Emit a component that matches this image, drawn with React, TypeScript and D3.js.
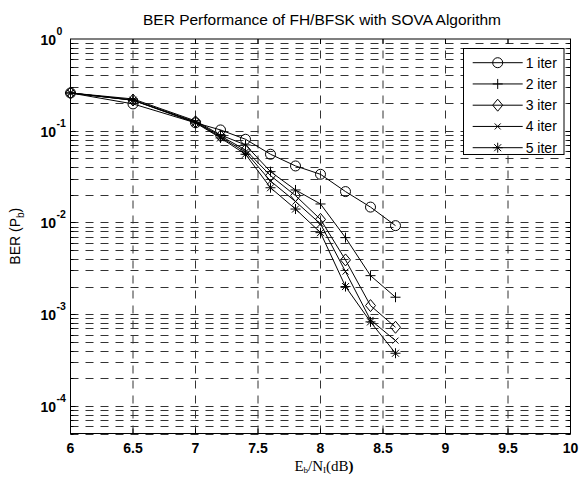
import React from "react";
import * as d3 from "d3";

const ebno = [6, 6.5, 7, 7.2, 7.4, 7.6, 7.8, 8.0, 8.2, 8.4, 8.6];
const iter1 = [0.258, 0.196, 0.122, 0.102, 0.0807, 0.0554, 0.0413, 0.0335, 0.0217, 0.0147, 0.00923];
const iter2 = [0.258, 0.222, 0.128, 0.0899, 0.07, 0.0358, 0.0226, 0.0159, 0.00683, 0.00263, 0.00153];
const iter3 = [0.258, 0.216, 0.125, 0.0877, 0.0617, 0.0324, 0.0196, 0.0108, 0.0039, 0.00124, 0.00072];
const iter4 = [0.258, 0.215, 0.124, 0.085, 0.0587, 0.0283, 0.0169, 0.00964, 0.00291, 0.000865, 0.000515];
const iter5 = [0.258, 0.215, 0.122, 0.0834, 0.0554, 0.0239, 0.014, 0.00774, 0.002, 0.000824, 0.000375];
const seriesNames = ["1 iter", "2 iter", "3 iter", "4 iter", "5 iter"];
const markerTypes = ["circle", "plus", "diamond", "x", "star"];
const xTicks = [6, 6.5, 7, 7.5, 8, 8.5, 9, 9.5, 10];
const yMajorExp = [0, -1, -2, -3, -4];
const titleText = "BER Performance of FH/BFSK with SOVA Algorithm";

const W = 581;
const H = 477;
const L = 70.5, R = 570.5, T = 39, B = 433.5;

function Marker({ type, x, y }: { type: string; x: number; y: number }) {
  const s = { stroke: "#000", strokeWidth: 1, fill: "none" } as any;
  if (type === "circle") return <circle cx={x} cy={y} r={5} {...s} />;
  if (type === "plus")
    return <path d={`M${x - 5},${y}H${x + 5}M${x},${y - 5}V${y + 5}`} {...s} />;
  if (type === "diamond")
    return <path d={`M${x},${y - 6}L${x + 5},${y}L${x},${y + 6}L${x - 5},${y}Z`} {...s} />;
  if (type === "x")
    return <path d={`M${x - 3},${y - 3}L${x + 3},${y + 3}M${x - 3},${y + 3}L${x + 3},${y - 3}`} {...s} />;
  return (
    <path
      d={`M${x - 5},${y}H${x + 5}M${x},${y - 5}V${y + 5}M${x - 3.5},${y - 3.5}L${x + 3.5},${y + 3.5}M${x - 3.5},${y + 3.5}L${x + 3.5},${y - 3.5}`}
      {...s}
    />
  );
}

export default function App() {
  const x = d3.scaleLinear().domain([6, 10]).range([L, R]);
  const y = d3.scaleLog().domain([5e-5, 1]).range([B, T]);
  const data = [iter1, iter2, iter3, iter4, iter5];
  const line = d3
    .line<number>()
    .x((_, i) => x(ebno[i]))
    .y((d) => y(d));

  const minorVals: number[] = [];
  for (let e = -5; e <= 0; e++) {
    for (let k = 1; k <= 9; k++) {
      const v = k * Math.pow(10, e);
      if (v >= 5e-5 && v < 1) minorVals.push(v);
    }
  }

  const gridStyle = { stroke: "#333", strokeWidth: 1, strokeDasharray: "8,7", fill: "none" } as any;

  const legX = 463.5, legY = 48.5, legW = 100.5, legH = 106;
  const legRow0 = 62.7, legStep = 21.25;

  return (
    <svg
      width={W}
      height={H}
      style={{ position: "absolute", left: 0, top: 0, background: "#fff" }}
      fontFamily="Arial, 'Liberation Sans', Helvetica, sans-serif"
    >
      <rect x={0} y={0} width={W} height={H} fill="#fff" />
      {xTicks.slice(1, -1).map((t) => (
        <line key={"gx" + t} x1={x(t)} x2={x(t)} y1={B} y2={T} {...gridStyle} />
      ))}
      {minorVals.map((v, i) => (
        <line key={"gy" + i} x1={L} x2={R} y1={Math.round(y(v)) + 0.5} y2={Math.round(y(v)) + 0.5} {...gridStyle} />
      ))}
      {xTicks.map((t) => (
        <g key={"tx" + t}>
          <line x1={x(t)} x2={x(t)} y1={B} y2={B - 5} stroke="#000" />
          <line x1={x(t)} x2={x(t)} y1={T} y2={T + 5} stroke="#000" />
          <text x={x(t)} y={B + 19} textAnchor="middle" fontSize={14} fontWeight="bold">
            {String(t)}
          </text>
        </g>
      ))}
      {minorVals.map((v, i) => {
        const isMajor = Math.abs(Math.log10(v) - Math.round(Math.log10(v))) < 1e-9;
        const len = isMajor ? 5 : 3;
        const yy = Math.round(y(v)) + 0.5;
        return (
          <g key={"ty" + i}>
            <line x1={L} x2={L + len} y1={yy} y2={yy} stroke="#000" />
            <line x1={R} x2={R - len} y1={yy} y2={yy} stroke="#000" />
          </g>
        );
      })}
      {yMajorExp.map((e) => {
        const yy = y(Math.pow(10, e));
        return (
          <g key={"yl" + e}>
            <text x={56} y={yy + 6} textAnchor="end" fontSize={14} fontWeight="bold">
              10
            </text>
            <text x={56.5} y={yy - 4} fontSize={10.5} fontWeight="bold">
              {String(e)}
            </text>
          </g>
        );
      })}
      {data.map((vals, si) => (
        <g key={"s" + si}>
          <path d={line(vals) || ""} stroke="#000" strokeWidth={1} fill="none" />
          {vals.map((v, i) => (
            <Marker key={i} type={markerTypes[si]} x={x(ebno[i])} y={y(v)} />
          ))}
        </g>
      ))}
      <rect x={L} y={T} width={R - L} height={B - T} fill="none" stroke="#000" strokeWidth={1} />
      <rect x={legX} y={legY} width={legW} height={legH} fill="#fff" stroke="#000" strokeWidth={1} />
      {seriesNames.map((n, i) => {
        const yy = legRow0 + i * legStep;
        return (
          <g key={"lg" + i}>
            <line x1={472.7} x2={522.7} y1={yy} y2={yy} stroke="#000" />
            <Marker type={markerTypes[i]} x={497.7} y={yy} />
            <text x={525.7} y={yy + 5} fontSize={14}>
              {n}
            </text>
          </g>
        );
      })}
      <text x={322} y={25} textAnchor="middle" fontSize={15.5}>
        {titleText}
      </text>
      <text transform={`translate(19.5,${(T + B) / 2}) rotate(-90)`} textAnchor="middle" fontSize={14}>
        BER (P<tspan fontSize={10} dy={4}>b</tspan>
        <tspan dy={-4}>)</tspan>
      </text>
      <text x={324} y={470.5} textAnchor="middle" fontSize={15} fontFamily="'Liberation Serif', 'Times New Roman', serif">
        E<tspan fontSize={9} dy={2.5}>b</tspan>
        <tspan dy={-2.5}>/N</tspan>
        <tspan fontSize={9} dy={2.5}>I</tspan>
        <tspan dy={-2.5}>(dB</tspan>
        <tspan fontWeight="bold">)</tspan>
      </text>
    </svg>
  );
}
